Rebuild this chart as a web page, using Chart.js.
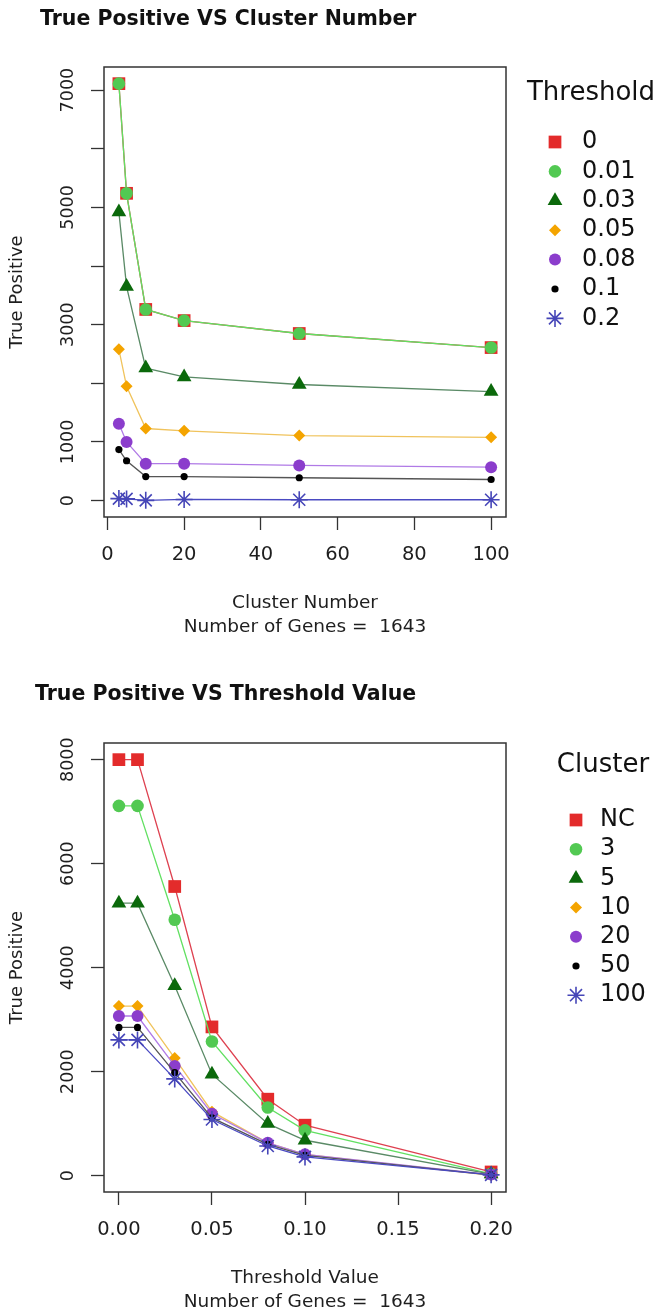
<!DOCTYPE html>
<html>
<head>
<meta charset="utf-8">
<script src="https://cdn.jsdelivr.net/npm/chart.js@4.4.1/dist/chart.umd.min.js"></script>
<style>
  html, body { margin: 0; padding: 0; background: #fff; overflow: hidden; }
  .panel { position: absolute; left: 0; width: 659px; height: 640px; }
</style>
</head>
<body>
<div class="panel" style="top:0"><canvas id="clusterChart" width="659" height="640"></canvas></div>
<div class="panel" style="top:675px"><canvas id="thresholdChart" width="659" height="640"></canvas></div>
<script>
// x values of the two panels
const clusterNumbers = [3, 5, 10, 20, 50, 100];
const thresholdValues = [0, 0.01, 0.03, 0.05, 0.08, 0.1, 0.2];

// legend labels
const thresholdLabels = ['0', '0.01', '0.03', '0.05', '0.08', '0.1', '0.2'];
const clusterLabels = ['NC', '3', '5', '10', '20', '50', '100'];

// true positives for each threshold, one value per cluster number
const tpThr0   = [7110, 5240, 3260, 3070, 2850, 2610];
const tpThr001 = [7110, 5240, 3260, 3070, 2850, 2610];
const tpThr003 = [4920, 3650, 2260, 2110, 1980, 1860];
const tpThr005 = [2580, 1950, 1230, 1190, 1110, 1080];
const tpThr008 = [1310, 1000, 630, 630, 600, 570];
const tpThr01  = [870, 680, 410, 410, 390, 360];
const tpThr02  = [35, 30, 5, 20, 15, 15];

// no clustering (NC), one value per threshold
const tpNoCluster = [8000, 8000, 5560, 2860, 1470, 970, 70];

// axis ticks
const clusterTicks = [0, 20, 40, 60, 80, 100];
const tpTicksTop = [0, 1000, 2000, 3000, 4000, 5000, 6000, 7000];
const tpTickLabelsTop = {0: '0', 1000: '1000', 3000: '3000', 5000: '5000', 7000: '7000'};
const thresholdTicks = [0, 0.05, 0.1, 0.15, 0.2];
const thresholdTickLabels = ['0.00', '0.05', '0.10', '0.15', '0.20'];
const tpTicksBottom = [0, 2000, 4000, 6000, 8000];

const byThreshold = [tpThr0, tpThr001, tpThr003, tpThr005, tpThr008, tpThr01, tpThr02];

// marker looks, same order in both panels (like R pch 15,16,17,18,...)
const markers = [
  {pointStyle: 'rect',     color: '#e32b2b', line: '#de4150', radius: 9},
  {pointStyle: 'circle',   color: '#52c952', line: '#62e062', radius: 6.3},
  {pointStyle: 'triangle', color: '#0b690b', line: '#5a8a66', radius: 8.5},
  {pointStyle: 'rectRot',  color: '#f4a400', line: '#f0c35c', radius: 6},
  {pointStyle: 'circle',   color: '#8b3dcc', line: '#b07ae6', radius: 6},
  {pointStyle: 'circle',   color: '#000000', line: '#555555', radius: 3.6},
  {pointStyle: 'star',     color: '#4646b8', line: '#4a4ac2', radius: 8.5}
];

Chart.defaults.font.family = "'DejaVu Sans', sans-serif";
Chart.defaults.color = '#1e1e1e';

function makeDataset(label, xs, ys, i) {
  const m = markers[i];
  return {
    label: label,
    data: xs.map((x, k) => ({x: x, y: ys[k]})),
    borderColor: m.line,
    borderWidth: 1.3,
    pointStyle: m.pointStyle,
    pointRadius: m.radius,
    pointHoverRadius: m.radius,
    pointBackgroundColor: m.color,
    pointBorderColor: m.color,
    pointBorderWidth: m.pointStyle === 'star' ? 1.6 : 0,
    tension: 0,
    order: -i
  };
}

// bold title in the top left corner
const plotTitle = {
  id: 'plotTitle',
  afterDraw(chart, args, opts) {
    const ctx = chart.ctx;
    ctx.save();
    ctx.font = "bold 20.5px 'DejaVu Sans'";
    ctx.fillStyle = '#111';
    ctx.textAlign = 'left';
    ctx.textBaseline = 'middle';
    ctx.fillText(opts.text, opts.x, opts.y);
    ctx.restore();
  }
};

// R style box round the plot region
const plotBox = {
  id: 'plotBox',
  afterDatasetsDraw(chart) {
    const {left, top, right, bottom} = chart.chartArea;
    const ctx = chart.ctx;
    ctx.save();
    ctx.strokeStyle = '#333';
    ctx.lineWidth = 1.5;
    ctx.strokeRect(left, top, right - left, bottom - top);
    ctx.restore();
  }
};

// legend without a frame, markers taken from the datasets
const rLegend = {
  id: 'rLegend',
  afterDraw(chart, args, opts) {
    const ctx = chart.ctx;
    ctx.save();
    ctx.fillStyle = '#111';
    ctx.font = "26px 'DejaVu Sans'";
    ctx.textAlign = 'center';
    ctx.textBaseline = 'middle';
    ctx.fillText(opts.title, opts.titleX, opts.titleY);
    chart.data.datasets.forEach((ds, i) => {
      const y = opts.firstY + i * opts.step;
      ctx.fillStyle = ds.pointBackgroundColor;
      ctx.strokeStyle = ds.pointBorderColor;
      ctx.lineWidth = ds.pointBorderWidth;
      Chart.helpers.drawPoint(ctx, {
        pointStyle: ds.pointStyle,
        radius: ds.pointRadius,
        rotation: 0,
        borderWidth: ds.pointBorderWidth
      }, opts.markerX, y);
      ctx.fillStyle = '#111';
      ctx.font = "24px 'DejaVu Sans'";
      ctx.textAlign = 'left';
      ctx.fillText(ds.label, opts.textX, y);
    });
    ctx.restore();
  }
};

const tickGrid = {
  drawOnChartArea: false,
  tickLength: 13,
  tickColor: '#333',
  tickWidth: 1.3
};

function makeChart(id, s) {
  return new Chart(document.getElementById(id), {
    type: 'line',
    data: { datasets: s.datasets },
    plugins: [plotTitle, plotBox, rLegend],
    options: {
      responsive: false,
      animation: false,
      events: [],
      layout: { padding: { top: s.top, right: 153, bottom: 1, left: 0 } },
      plugins: {
        legend: { display: false },
        tooltip: { enabled: false },
        plotTitle: { text: s.title, x: s.titleX, y: 20 },
        rLegend: s.legend
      },
      scales: {
        x: {
          type: 'linear',
          bounds: 'data',
          min: s.xMin,
          max: s.xMax,
          afterBuildTicks: scale => { scale.ticks = s.xTicks.map(v => ({value: v})); },
          afterFit: scale => { scale.height = 122; },
          ticks: {
            autoSkip: false,
            maxRotation: 0,
            padding: 13,
            font: { size: 19.5 },
            callback: s.xLabel
          },
          grid: tickGrid,
          border: { display: false },
          title: {
            display: true,
            text: [s.xTitle, 'Number of Genes =  1643'],
            font: { size: 18.5, lineHeight: 1.3 },
            padding: 0
          }
        },
        y: {
          type: 'linear',
          bounds: 'data',
          min: s.yMin,
          max: s.yMax,
          afterBuildTicks: scale => { scale.ticks = s.yTicks.map(v => ({value: v})); },
          afterFit: scale => { scale.width = 104; },
          ticks: {
            autoSkip: false,
            minRotation: 90,
            maxRotation: 90,
            crossAlign: 'center',
            padding: 0,
            font: { size: 17.5 },
            callback: s.yLabel
          },
          grid: tickGrid,
          border: { display: false },
          title: {
            display: true,
            text: 'True Positive',
            font: { size: 18 },
            padding: { top: 7, bottom: 0 }
          }
        }
      }
    }
  });
}

makeChart('clusterChart', {
  datasets: byThreshold.map((ys, i) => makeDataset(thresholdLabels[i], clusterNumbers, ys, i)),
  title: 'True Positive VS Cluster Number',
  titleX: 40,
  top: 67,
  xMin: -0.88, xMax: 103.88,
  yMin: -279, yMax: 7394,
  xTicks: clusterTicks,
  yTicks: tpTicksTop,
  xLabel: v => String(v),
  yLabel: v => tpTickLabelsTop[v] || '',
  xTitle: 'Cluster Number',
  legend: { title: 'Threshold', titleX: 591, titleY: 93, markerX: 555, textX: 582, firstY: 142, step: 29.4 }
});

const clusterSeries = [makeDataset(clusterLabels[0], thresholdValues, tpNoCluster, 0)];
clusterNumbers.forEach((c, j) => {
  clusterSeries.push(makeDataset(clusterLabels[j + 1], thresholdValues, byThreshold.map(row => row[j]), j + 1));
});

makeChart('thresholdChart', {
  datasets: clusterSeries,
  title: 'True Positive VS Threshold Value',
  titleX: 35,
  top: 68,
  xMin: -0.008, xMax: 0.208,
  yMin: -315, yMax: 8320,
  xTicks: thresholdTicks,
  yTicks: tpTicksBottom,
  xLabel: (v, i) => thresholdTickLabels[i],
  yLabel: v => String(v),
  xTitle: 'Threshold Value',
  legend: { title: 'Cluster', titleX: 603, titleY: 90, markerX: 576, textX: 600, firstY: 145, step: 29.2 }
});
</script>
</body>
</html>
